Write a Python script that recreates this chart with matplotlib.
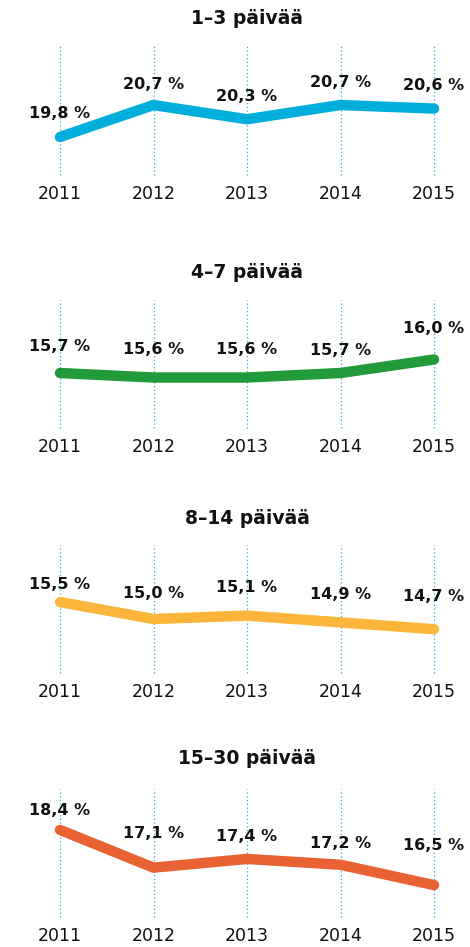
import matplotlib
matplotlib.use("Agg")
import matplotlib.pyplot as plt

years = [2011, 2012, 2013, 2014, 2015]

titles = ["1–3 päivää", "4–7 päivää", "8–14 päivää", "15–30 päivää"]
short_stay = [19.8, 20.7, 20.3, 20.7, 20.6]
week_stay = [15.7, 15.6, 15.6, 15.7, 16.0]
two_weeks = [15.5, 15.0, 15.1, 14.9, 14.7]
month_stay = [18.4, 17.1, 17.4, 17.2, 16.5]
series = [short_stay, week_stay, two_weeks, month_stay]

colors = ["#00AEDC", "#22993B", "#FBB53A", "#E86234"]
grid_color = "#29ABE2"

# layout in pixels (figure is 470 x 947)
W, H = 470, 947
panel_top = [45, 300, 545, 789]
panel_bottom = [175, 428, 673, 917]
ylims = [(18.73, 22.39), (14.48, 17.32), (13.41, 17.18), (15.40, 19.81)]
title_off = [27, 28, 27, 31]
label_off = [
    [23, 21, 23, 23, 23],
    [27, 28, 28, 23, 31],
    [18, 26, 28, 28, 33],
    [19, 34, 22, 21, 40],
]

plt.rcParams["font.family"] = ["DejaVu Sans"]

fig = plt.figure(figsize=(W / 100, H / 100), dpi=100)
fig.patch.set_facecolor("white")

x0, x1 = 60, 434
for i, vals in enumerate(series):
    top, bot = panel_top[i], panel_bottom[i]
    ax = fig.add_axes([x0 / W, 1 - bot / H, (x1 - x0) / W, (bot - top) / H])
    ax.set_xlim(years[0], years[-1])
    ax.set_ylim(*ylims[i])
    for s in ax.spines.values():
        s.set_visible(False)
    ax.set_yticks([])
    ax.set_xticks(years)
    ax.set_xticklabels([str(y) for y in years], fontsize=12.5, color="#111111")
    ax.tick_params(axis="x", length=0, pad=7)
    for y in years:
        ax.axvline(y, color=grid_color, lw=0.9, ls=(0, (1, 2)), clip_on=False, zorder=1)
    ax.plot(years, vals, color=colors[i], lw=7.5, solid_capstyle="round",
            solid_joinstyle="round", clip_on=False, zorder=3)
    for j, v in enumerate(vals):
        ax.annotate(f"{v:.1f} %".replace(".", ","), xy=(years[j], v),
                    xytext=(0, label_off[i][j]), textcoords="offset pixels",
                    ha="center", va="center", fontsize=11.5, fontweight="bold",
                    color="#111111", zorder=4, annotation_clip=False)
    ax.annotate(titles[i], xy=(0.5, 1), xycoords="axes fraction",
                xytext=(0, title_off[i]), textcoords="offset pixels",
                ha="center", va="center", fontsize=13.5, fontweight="bold",
                color="#111111")

fig.savefig("out.png", dpi=100, facecolor="white")
